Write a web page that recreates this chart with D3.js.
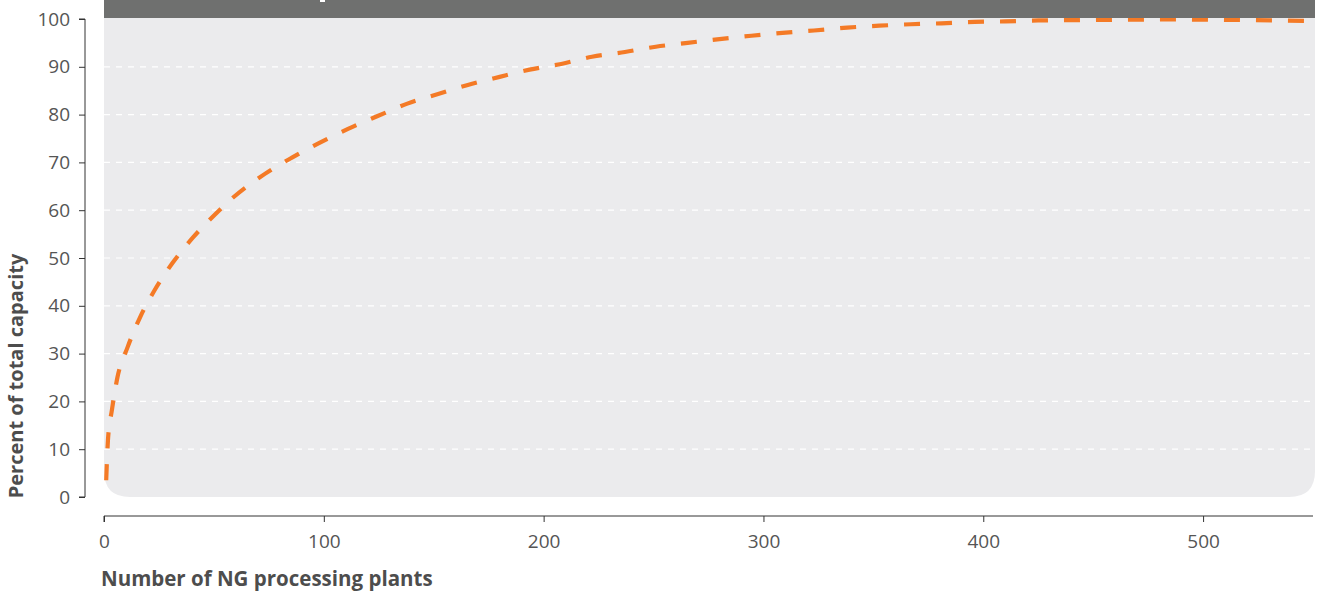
<!DOCTYPE html>
<html><head><meta charset="utf-8">
<script src="https://cdn.jsdelivr.net/npm/d3@7"></script>
<style>body{margin:0;background:#fff}svg{display:block}</style>
</head><body><svg id="c" width="1319" height="593"></svg>
<script>
const plants = [1,1.8,3.6,6.1,10.7,16.4,23.2,31.4,40.5,50.5,58.6,73.2,85.5,98,111,124.5,138,152,165.5,180,193.6,208,222,237,251,265.5,280,294.5,308.6,323,338,352.7,367,381,396,410,425,450,484,515,550];
const capacity = [3.5,11.9,18.2,25,31.3,37.6,43.4,49.1,54.3,59.1,62.6,67.6,71,74.1,77,79.7,82.3,84.3,86.2,87.9,89.4,90.6,92.1,93.1,94.2,95,95.8,96.5,97.1,97.6,98.2,98.6,98.9,99.1,99.4,99.5,99.7,99.8,99.9,99.8,99.6];
const xTicks = [0,100,200,300,400,500];
const yTicks = [0,10,20,30,40,50,60,70,80,90,100];
const xTitle = "Number of NG processing plants";
const yTitle = "Percent of total capacity";

const FONT = "'Open Sans', 'Noto Sans', sans-serif";
const svg = d3.select("#c");
const x = d3.scaleLinear().domain([0,550]).range([104,1313]);
const y = d3.scaleLinear().domain([0,100]).range([497,19]);
const plotL = 104, plotR = 1315, plotT = 18, plotB = y(0), r = 26;

svg.append("path")
  .attr("d", `M${plotL},${plotT} H${plotR} V${plotB-r} Q${plotR},${plotB} ${plotR-r},${plotB} H${plotL+r} Q${plotL},${plotB} ${plotL},${plotB-r} Z`)
  .attr("fill", "#ebebed");

svg.append("g").selectAll("line").data(yTicks.filter(d=>d>0 && d<100)).join("line")
  .attr("x1", plotL).attr("x2", plotR)
  .attr("y1", d=>y(d)).attr("y2", d=>y(d))
  .attr("stroke", "#fff").attr("stroke-width", 1.2).attr("stroke-dasharray", "6,6");

svg.append("path")
  .datum(plants.map((p,i)=>[p,capacity[i]]))
  .attr("d", d3.line().x(d=>x(d[0])).y(d=>y(d[1])).curve(d3.curveMonotoneX))
  .attr("fill","none").attr("stroke","#f47a26").attr("stroke-width",4.2)
  .attr("stroke-dasharray","16,16");

svg.append("rect").attr("x", plotL).attr("y", 0).attr("width", plotR-plotL).attr("height", plotT)
  .attr("fill", "#6f706f");
svg.append("rect").attr("x", 320).attr("y", 0).attr("width", 5).attr("height", 2).attr("fill", "#fff");

const yAxis = svg.append("g").attr("transform", "translate(85,0)")
  .call(d3.axisLeft(y).tickValues(yTicks).tickSize(6).tickPadding(9));
yAxis.select(".domain").attr("d", `M-6,${y(100)}H0V${y(0)}H-6`).attr("stroke","#333");
yAxis.selectAll(".tick line").attr("stroke","#333");
yAxis.selectAll("text").attr("font-family",FONT).attr("font-size",19).attr("fill","#555");

const xAxis = svg.append("g").attr("transform", "translate(0,516)")
  .call(d3.axisBottom(x).tickValues(xTicks).tickSize(6).tickPadding(13));
xAxis.select(".domain").attr("d", `M${x(0)},6V0H${x(550)}`).attr("stroke","#333");
xAxis.selectAll(".tick line").attr("stroke","#333");
xAxis.selectAll("text").attr("font-family",FONT).attr("font-size",19).attr("fill","#555");

svg.append("text").attr("x", 101).attr("y", 586).text(xTitle)
  .attr("font-family",FONT).attr("font-weight","bold").attr("font-size",20.5).attr("fill","#4d4d4d");
svg.append("text").attr("transform","translate(23,376) rotate(-90)").attr("text-anchor","middle").text(yTitle)
  .attr("font-family",FONT).attr("font-weight","bold").attr("font-size",20).attr("fill","#4d4d4d");
</script></body></html>
